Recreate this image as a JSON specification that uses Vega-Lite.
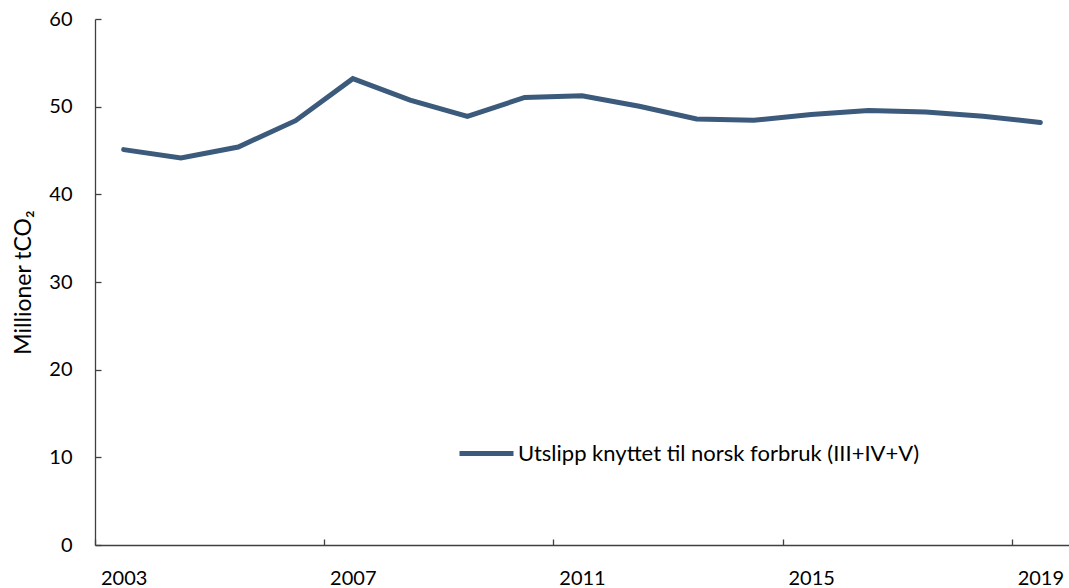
{
  "$schema": "https://vega.github.io/schema/vega-lite/v6.json",
  "autosize": "none",
  "width": 974,
  "height": 526,
  "padding": {"left": 95, "top": 19, "right": 0, "bottom": 43},
  "background": "white",
  "config": {
    "view": {"stroke": null},
    "font": "Lato",
    "axis": {"labelFont": "Lato", "titleFont": "Lato", "labelColor": "#000000", "titleColor": "#000000", "domainColor": "#404040", "tickColor": "#404040", "domainWidth": 1.3, "tickWidth": 1.3, "grid": false}
  },
  "data": {
    "values": [
      {"year": 2003, "value": 45.1, "serie": "Utslipp knyttet til norsk forbruk (III+IV+V)"},
      {"year": 2004, "value": 44.15, "serie": "Utslipp knyttet til norsk forbruk (III+IV+V)"},
      {"year": 2005, "value": 45.4, "serie": "Utslipp knyttet til norsk forbruk (III+IV+V)"},
      {"year": 2006, "value": 48.4, "serie": "Utslipp knyttet til norsk forbruk (III+IV+V)"},
      {"year": 2007, "value": 53.2, "serie": "Utslipp knyttet til norsk forbruk (III+IV+V)"},
      {"year": 2008, "value": 50.75, "serie": "Utslipp knyttet til norsk forbruk (III+IV+V)"},
      {"year": 2009, "value": 48.9, "serie": "Utslipp knyttet til norsk forbruk (III+IV+V)"},
      {"year": 2010, "value": 51.05, "serie": "Utslipp knyttet til norsk forbruk (III+IV+V)"},
      {"year": 2011, "value": 51.25, "serie": "Utslipp knyttet til norsk forbruk (III+IV+V)"},
      {"year": 2012, "value": 50.05, "serie": "Utslipp knyttet til norsk forbruk (III+IV+V)"},
      {"year": 2013, "value": 48.6, "serie": "Utslipp knyttet til norsk forbruk (III+IV+V)"},
      {"year": 2014, "value": 48.45, "serie": "Utslipp knyttet til norsk forbruk (III+IV+V)"},
      {"year": 2015, "value": 49.1, "serie": "Utslipp knyttet til norsk forbruk (III+IV+V)"},
      {"year": 2016, "value": 49.55, "serie": "Utslipp knyttet til norsk forbruk (III+IV+V)"},
      {"year": 2017, "value": 49.4, "serie": "Utslipp knyttet til norsk forbruk (III+IV+V)"},
      {"year": 2018, "value": 48.9, "serie": "Utslipp knyttet til norsk forbruk (III+IV+V)"},
      {"year": 2019, "value": 48.2, "serie": "Utslipp knyttet til norsk forbruk (III+IV+V)"}
    ]
  },
  "mark": {"type": "line", "strokeWidth": 5, "strokeCap": "round", "strokeJoin": "miter"},
  "encoding": {
    "x": {
      "field": "year",
      "type": "quantitative",
      "scale": {"domain": [2002.5, 2019.5], "nice": false, "zero": false},
      "axis": {
        "title": null,
        "values": [2003, 2007, 2011, 2015, 2019],
        "format": "d",
        "tickSize": -6,
        "tickOffset": -28.65,
        "labelOffset": 28.65,
        "labelPadding": 29,
        "labelFontSize": 20,
        "labelFlush": false,
        "labelOverlap": false
      }
    },
    "y": {
      "field": "value",
      "type": "quantitative",
      "scale": {"domain": [0, 60], "nice": false},
      "axis": {
        "title": "Millioner tCO₂",
        "values": [0, 10, 20, 30, 40, 50, 60],
        "tickSize": -6,
        "labelPadding": 29,
        "labelFontSize": 20,
        "titleFontSize": 23,
        "titleFontWeight": "normal",
        "titlePadding": 13
      }
    },
    "color": {
      "field": "serie",
      "type": "nominal",
      "scale": {"range": ["#3B5A7C"]},
      "legend": {
        "title": null,
        "orient": "none",
        "legendX": 362,
        "legendY": 405,
        "padding": 0,
        "symbolType": "stroke",
        "symbolSize": 2916,
        "symbolStrokeWidth": 5,
        "labelFontSize": 22,
        "labelColor": "#000000",
        "labelOffset": 2,
        "labelLimit": 600
      }
    }
  }
}
